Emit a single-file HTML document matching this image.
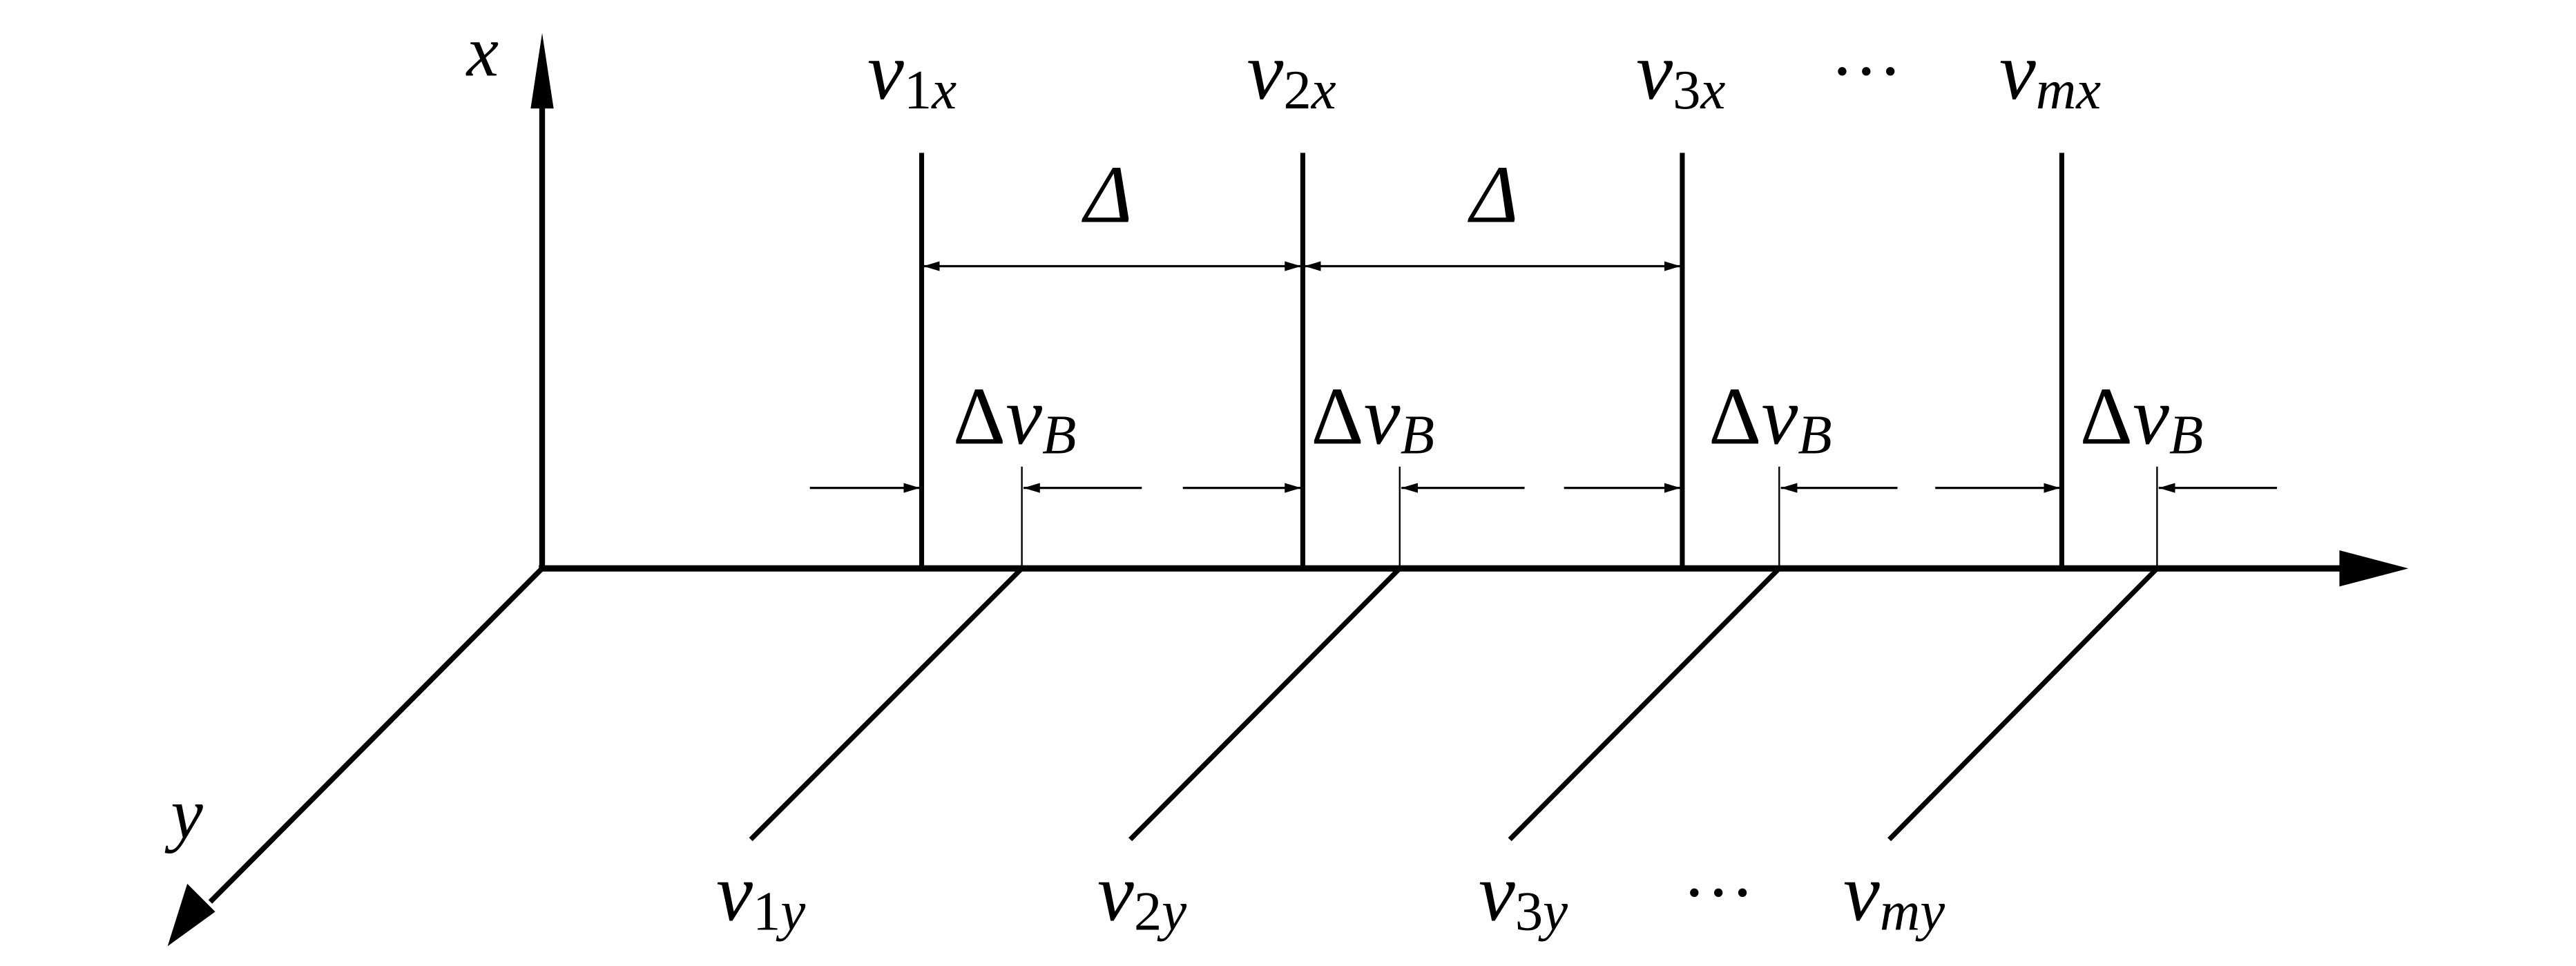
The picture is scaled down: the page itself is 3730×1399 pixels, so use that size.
<!DOCTYPE html>
<html><head><meta charset="utf-8"><style>
html,body{margin:0;padding:0;background:#fff;}
svg{display:block;}
text{font-family:"Liberation Serif",serif;font-style:italic;fill:#000;}
.up{font-style:normal;}
</style></head><body>
<svg width="3730" height="1399" viewBox="0 0 1568 588" xmlns="http://www.w3.org/2000/svg">
<defs>
<marker id="ah" viewBox="0 0 10 6" refX="10" refY="3" markerWidth="10" markerHeight="6" markerUnits="userSpaceOnUse" orient="auto">
<path d="M0,0 L10,3 L0,6 Z" fill="#000"/></marker>
</defs>
<g stroke="#000" fill="none">
<line x1="330" y1="346" x2="330" y2="62" stroke-width="3.5"/>
<polygon points="330,20 323,66 337,66" fill="#000" stroke="none"/>
<line x1="328" y1="346" x2="1430" y2="346" stroke-width="3.8"/>
<polygon points="1466,346 1424,335 1424,357" fill="#000" stroke="none"/>
<line x1="330" y1="346" x2="128" y2="549" stroke-width="3.2"/>
<polygon points="102,576 114,538 131,555" fill="#000" stroke="none"/>
<g stroke-width="3">
<line x1="561" y1="93" x2="561" y2="346"/>
<line x1="793" y1="93" x2="793" y2="346"/>
<line x1="1024" y1="93" x2="1024" y2="346"/>
<line x1="1255" y1="93" x2="1255" y2="346"/>
</g>
<g stroke-width="1">
<line x1="622" y1="284" x2="622" y2="346"/>
<line x1="852" y1="284" x2="852" y2="346"/>
<line x1="1083" y1="284" x2="1083" y2="346"/>
<line x1="1313" y1="284" x2="1313" y2="346"/>
</g>
<g stroke-width="3">
<line x1="622" y1="346" x2="457" y2="511"/>
<line x1="852" y1="346" x2="688" y2="511"/>
<line x1="1083" y1="346" x2="919" y2="511"/>
<line x1="1313" y1="346" x2="1150" y2="511"/>
</g>
<g stroke-width="1.4">
<line x1="677" y1="162" x2="562" y2="162" marker-end="url(#ah)"/>
<line x1="677" y1="162" x2="792" y2="162" marker-end="url(#ah)"/>
<line x1="908" y1="162" x2="794" y2="162" marker-end="url(#ah)"/>
<line x1="908" y1="162" x2="1023" y2="162" marker-end="url(#ah)"/>
<line x1="493" y1="297" x2="560" y2="297" marker-end="url(#ah)"/>
<line x1="695" y1="297" x2="623" y2="297" marker-end="url(#ah)"/>
<line x1="720" y1="297" x2="792" y2="297" marker-end="url(#ah)"/>
<line x1="928" y1="297" x2="853" y2="297" marker-end="url(#ah)"/>
<line x1="952" y1="297" x2="1023" y2="297" marker-end="url(#ah)"/>
<line x1="1155" y1="297" x2="1084" y2="297" marker-end="url(#ah)"/>
<line x1="1178" y1="297" x2="1254" y2="297" marker-end="url(#ah)"/>
<line x1="1386" y1="297" x2="1314" y2="297" marker-end="url(#ah)"/>
</g>
</g>
<text x="284" y="46" font-size="44">x</text>
<text x="104" y="510" font-size="44">y</text>
<g font-size="50">
<text x="528" y="60">v<tspan font-size="34" dy="6" class="up">1</tspan><tspan font-size="34">x</tspan></text>
<text x="759" y="60">v<tspan font-size="34" dy="6" class="up">2</tspan><tspan font-size="34">x</tspan></text>
<text x="996" y="60">v<tspan font-size="34" dy="6" class="up">3</tspan><tspan font-size="34">x</tspan></text>
<text x="1217" y="60">v<tspan font-size="34" dy="6">mx</tspan></text>
<text x="1114" y="58" class="up" font-size="44">···</text>
<text x="660" y="135" font-size="50">Δ</text>
<text x="895" y="135" font-size="50">Δ</text>
<text x="580" y="270"><tspan class="up">Δ</tspan>v<tspan font-size="34" dy="6">B</tspan></text>
<text x="798" y="270"><tspan class="up">Δ</tspan>v<tspan font-size="34" dy="6">B</tspan></text>
<text x="1040" y="270"><tspan class="up">Δ</tspan>v<tspan font-size="34" dy="6">B</tspan></text>
<text x="1266" y="270"><tspan class="up">Δ</tspan>v<tspan font-size="34" dy="6">B</tspan></text>
<text x="436" y="560">v<tspan font-size="34" dy="6" class="up">1</tspan><tspan font-size="34">y</tspan></text>
<text x="668" y="560">v<tspan font-size="34" dy="6" class="up">2</tspan><tspan font-size="34">y</tspan></text>
<text x="900" y="560">v<tspan font-size="34" dy="6" class="up">3</tspan><tspan font-size="34">y</tspan></text>
<text x="1024" y="558" class="up" font-size="44">···</text>
<text x="1122" y="560">v<tspan font-size="34" dy="6">my</tspan></text>
</g>
</svg>
</body></html>
